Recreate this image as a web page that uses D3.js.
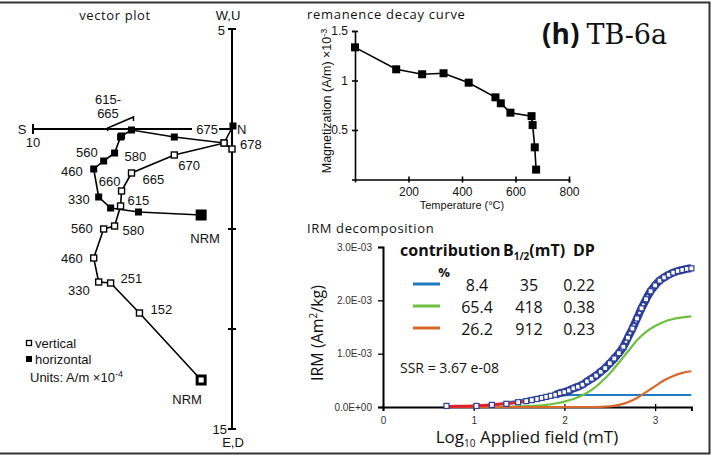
<!DOCTYPE html>
<html>
<head>
<meta charset="UTF-8">
<title>TB-6a</title>
<style>
  body { margin: 0; background: #fff; }
  svg { display: block; }
  text { font-family: "Liberation Sans", Arial, sans-serif; fill: #111; }
  .hum { font-family: "Open Sans", "Noto Sans", sans-serif; }
</style>
</head>
<body>
<svg></svg>
<script src="https://d3js.org/d3.v7.min.js"></script>
<script>
let width = 713, height = 456;
let svg = d3.select("svg").attr("width", width).attr("height", height);

// ---- vector plot data (A/m x 1e-4) ----
var steps = ["NRM", "152", "251", "330", "460", "560", "580", "615", "660", "665", "670", "675", "678"];
var horN = [-1.55, -4.7, -6.1, -6.7, -6.95, -6.45, -5.9, -5.6, -5.55, -5.05, -2.9, -0.4, 0.05];
var horE = [4.3, 4.15, 3.95, 3.4, 2.0, 1.6, 1.2, 0.4, 0.35, 0.05, 0.4, 0.7, -0.15];
var verN = [-1.55, -4.65, -6.1, -6.7, -6.95, -6.45, -5.9, -5.6, -5.55, -5.05, -2.9, -0.4, 0];
var verD = [12.55, 9.2, 7.7, 7.65, 6.45, 5.0, 4.85, 3.85, 3.1, 2.2, 1.3, 0.7, 1.0];

// ---- remanence decay curve ----
var decayT = [0, 154, 251, 331, 425, 525, 545, 581, 660, 664, 672, 677];
var decayM = [1.335, 1.113, 1.063, 1.073, 0.978, 0.83, 0.77, 0.675, 0.64, 0.55, 0.325, 0.10];

// ---- IRM decomposition (IRM in 1e-3 Am2/kg) ----
var irmX = [0.70, 1.03, 1.20, 1.36, 1.49, 1.58, 1.64, 1.70, 1.75, 1.80, 1.85, 1.90, 1.95, 2.00, 2.05, 2.10,
            2.15, 2.20, 2.25, 2.30, 2.35, 2.40, 2.45, 2.50, 2.55, 2.60, 2.65, 2.70, 2.75, 2.80, 2.85, 2.90,
            2.95, 3.00, 3.05, 3.10, 3.15, 3.20, 3.25, 3.30, 3.35, 3.40];
var irmY = [0.02, 0.02, 0.04, 0.06, 0.09, 0.11, 0.13, 0.15, 0.17, 0.19, 0.21, 0.23, 0.26, 0.28, 0.31, 0.35,
            0.38, 0.42, 0.48, 0.53, 0.59, 0.66, 0.73, 0.82, 0.91, 1.01, 1.13, 1.30, 1.47, 1.66, 1.85, 2.02,
            2.17, 2.28, 2.37, 2.43, 2.48, 2.52, 2.55, 2.57, 2.59, 2.60];
var fitX = [0.7, 0.8, 0.9, 1.0, 1.1, 1.2, 1.3, 1.4, 1.5, 1.6, 1.7, 1.8, 1.9, 2.0, 2.1, 2.2, 2.3, 2.4, 2.5,
            2.6, 2.7, 2.8, 2.9, 3.0, 3.1, 3.2, 3.3, 3.4];
var fitY = [0.01, 0.012, 0.015, 0.02, 0.03, 0.04, 0.055, 0.07, 0.09, 0.12, 0.15, 0.19, 0.23, 0.28, 0.35,
            0.42, 0.53, 0.66, 0.82, 1.01, 1.30, 1.66, 2.02, 2.28, 2.43, 2.52, 2.57, 2.60];
var compX = [0.7, 1.0, 1.2, 1.3, 1.4, 1.5, 1.6, 1.7, 1.8, 1.9, 2.0, 2.1, 2.2, 2.3, 2.4, 2.5, 2.6, 2.7,
             2.8, 2.9, 3.0, 3.1, 3.2, 3.3, 3.4];
var compBlue = [0, 0.004, 0.03, 0.06, 0.09, 0.12, 0.16, 0.19, 0.21, 0.218, 0.222, 0.225, 0.225, 0.225, 0.225,
                0.225, 0.225, 0.225, 0.225, 0.225, 0.225, 0.225, 0.225, 0.225, 0.225];
var compGreen = [0, 0.001, 0.002, 0.004, 0.007, 0.01, 0.016, 0.025, 0.04, 0.065, 0.10, 0.15, 0.22, 0.32,
                 0.46, 0.63, 0.83, 1.04, 1.25, 1.41, 1.52, 1.60, 1.65, 1.68, 1.70];
var compOrange = [0, 0, 0, 0, 0, 0, 0, 0, 0, 0, 0, 0, 0, 0, 0.001, 0.01, 0.04, 0.09, 0.17, 0.28, 0.39,
                  0.50, 0.58, 0.64, 0.67];
var compNames = ["blue", "green", "orange"];
var contribution = ["8.4", "65.4", "26.2"];
var bHalf = ["35", "418", "912"];
var dispersion = ["0.22", "0.38", "0.23"];
var ssrText = "SSR = 3.67 e-08";

// ---------------- frame ----------------
svg.append("path")
  .attr("d", "M0,2.5H709.5V453.5H0")
  .attr("fill", "none").attr("stroke", "#333").attr("stroke-width", 2);

// ---------------- vector plot ----------------
var xV = d3.scaleLinear().domain([-10, 0]).range([33, 232]);
var yV = d3.scaleLinear().domain([-5, 15]).range([29, 429]);

svg.append("text").attr("class", "hum").attr("x", 115).attr("y", 20)
  .attr("text-anchor", "middle").style("font-size", "13px").style("letter-spacing", "0.6px")
  .text("vector plot");

var vAx = svg.append("g").attr("stroke", "#000").attr("stroke-width", 2);
vAx.append("line").attr("x1", xV(-10)).attr("x2", xV(0)).attr("y1", yV(0)).attr("y2", yV(0));
vAx.append("line").attr("x1", xV(0)).attr("x2", xV(0)).attr("y1", yV(-5)).attr("y2", yV(15));
vAx.append("line").attr("x1", xV(-10)).attr("x2", xV(-10)).attr("y1", yV(0) - 5).attr("y2", yV(0) + 5);
[-5, 5, 10, 15].forEach(function(t) {
  vAx.append("line").attr("x1", xV(0) - 4).attr("x2", xV(0) + 4).attr("y1", yV(t)).attr("y2", yV(t));
});

function vtext(x, y, s, anchor) {
  return svg.append("text").attr("x", x).attr("y", y).attr("text-anchor", anchor || "start")
    .style("font-size", "13px").text(s);
}
vtext(22, yV(0) + 5, "S", "middle");
vtext(xV(-10), yV(0) + 18, "10", "middle");
vtext(xV(0) + 5, yV(0) + 5, "N");
vtext(xV(0) - 4, 20, "W,U", "middle");
vtext(xV(0) - 7, yV(-5) + 6, "5", "end");
vtext(xV(0) - 5, yV(15) + 5, "15", "end");
vtext(xV(0) + 1, yV(15) + 18, "E,D", "middle");

// 615-665 bracket
svg.append("path")
  .attr("d", "M" + xV(-6.25) + "," + (yV(0) + 2) + "L" + xV(-6.25) + "," + (yV(0) - 1) +
             "L" + xV(-4.95) + "," + (yV(0) - 12) + "L" + xV(-4.95) + "," + (yV(0) - 8))
  .attr("fill", "none").attr("stroke", "#000").attr("stroke-width", 1.5);
vtext(108, 104, "615-", "middle");
vtext(108, 118, "665", "middle");

var lineH = d3.line().x(function(d, i) { return xV(horN[i]); }).y(function(d, i) { return yV(horE[i]); });
var lineVt = d3.line().x(function(d, i) { return xV(verN[i]); }).y(function(d, i) { return yV(verD[i]); });
svg.append("path").datum(steps).attr("d", lineH).attr("fill", "none").attr("stroke", "#000").attr("stroke-width", 1.6);
svg.append("path").datum(steps).attr("d", lineVt).attr("fill", "none").attr("stroke", "#000").attr("stroke-width", 1.6);

svg.append("g").selectAll("rect").data(steps).enter().append("rect")
  .attr("x", function(d, i) { var s = i === 0 ? 11 : 7; return xV(horN[i]) - s / 2; })
  .attr("y", function(d, i) { var s = i === 0 ? 11 : 7; return yV(horE[i]) - s / 2; })
  .attr("width", function(d, i) { return i === 0 ? 11 : 7; })
  .attr("height", function(d, i) { return i === 0 ? 11 : 7; })
  .attr("fill", "#000");

svg.append("g").selectAll("rect").data(steps).enter().append("rect")
  .attr("x", function(d, i) { var s = i === 0 ? 8 : 6; return xV(verN[i]) - s / 2; })
  .attr("y", function(d, i) { var s = i === 0 ? 8 : 6; return yV(verD[i]) - s / 2; })
  .attr("width", function(d, i) { return i === 0 ? 8 : 6; })
  .attr("height", function(d, i) { return i === 0 ? 8 : 6; })
  .attr("fill", "#fff").attr("stroke", "#000")
  .attr("stroke-width", function(d, i) { return i === 0 ? 3 : 1.4; });

// step labels: which series / step, offset from the point
var vecLabels = [
  {s: "v", i: 0, dx: -14, dy: 24, a: "middle"},
  {s: "v", i: 1, dx: 11, dy: 1, a: "start"},
  {s: "v", i: 2, dx: 10, dy: 0, a: "start"},
  {s: "v", i: 3, dx: -9, dy: 13, a: "end"},
  {s: "v", i: 4, dx: -11, dy: 5, a: "end"},
  {s: "v", i: 5, dx: -11, dy: 4, a: "end"},
  {s: "v", i: 6, dx: 8, dy: 9, a: "start"},
  {s: "v", i: 7, dx: 7, dy: -1, a: "start"},
  {s: "v", i: 8, dx: -1, dy: -5, a: "end"},
  {s: "v", i: 9, dx: 11, dy: 11, a: "start"},
  {s: "v", i: 10, dx: 4, dy: 15, a: "start"},
  {s: "v", i: 12, dx: 8, dy: 0, a: "start"},
  {s: "h", i: 0, dx: 4, dy: 28, a: "middle"},
  {s: "h", i: 3, dx: -9, dy: 7, a: "end"},
  {s: "h", i: 4, dx: -11, dy: 7, a: "end"},
  {s: "h", i: 5, dx: -6, dy: -4, a: "end"},
  {s: "h", i: 6, dx: 10, dy: 8, a: "start"}
];
vecLabels.forEach(function(l) {
  var px = l.s === "v" ? xV(verN[l.i]) : xV(horN[l.i]);
  var py = l.s === "v" ? yV(verD[l.i]) : yV(horE[l.i]);
  vtext(px + l.dx, py + l.dy, steps[l.i], l.a);
});
// 675 label sits on the N-S axis with a white backing
svg.append("rect").attr("x", 192).attr("y", yV(0) - 8).attr("width", 27).attr("height", 15).attr("fill", "#fff");
vtext(218, yV(0) + 5, steps[11], "end");

// legend
svg.append("rect").attr("x", 26.5).attr("y", 340.5).attr("width", 5).attr("height", 5)
  .attr("fill", "#fff").attr("stroke", "#000").attr("stroke-width", 1.3);
svg.append("rect").attr("x", 26).attr("y", 356).attr("width", 6).attr("height", 6).attr("fill", "#000");
vtext(35, 348, "vertical");
vtext(35, 364, "horizontal");
var u = vtext(30, 382, "Units: A/m \u00d710");
u.append("tspan").attr("dy", -5).style("font-size", "9px").text("-4");

// ---------------- remanence decay curve ----------------
var xD = d3.scaleLinear().domain([0, 800]).range([355, 569]);
var yD = d3.scaleLinear().domain([0, 1.5]).range([179.5, 31]);

svg.append("text").attr("class", "hum").attr("x", 307).attr("y", 19)
  .style("font-size", "13px").style("letter-spacing", "0.7px").text("remanence decay curve");

var gx = svg.append("g").attr("transform", "translate(0," + yD(0) + ")")
  .call(d3.axisBottom(xD).tickValues([200, 400, 600, 800]).tickSizeOuter(0).tickSize(3).tickPadding(5));
gx.selectAll(".tick line").attr("y1", -3).attr("y2", 3);
var gy = svg.append("g").attr("transform", "translate(" + xD(0) + ",0)")
  .call(d3.axisLeft(yD).tickValues([0.5, 1, 1.5]).tickFormat(d3.format("")).tickSizeOuter(0).tickSize(3).tickPadding(4));
gy.selectAll(".tick line").attr("x1", 3).attr("x2", -3);
[gx, gy].forEach(function(g) {
  g.select(".domain").attr("stroke-width", 1.6);
  g.selectAll(".tick line").attr("stroke-width", 1.6);
  g.selectAll("text").style("font-size", "12px").style("font-family", "Liberation Sans, Arial, sans-serif");
});

svg.append("text").attr("x", 462).attr("y", 209).attr("text-anchor", "middle")
  .style("font-size", "11px").text("Temperature (\u00b0C)");
var ml = svg.append("text").attr("transform", "translate(331,101) rotate(-90)").attr("text-anchor", "middle")
  .style("font-size", "12.5px").text("Magnetization (A/m) \u00d710");
ml.append("tspan").attr("dy", -4).style("font-size", "9px").text("-3");

var lineD = d3.line().x(function(d, i) { return xD(decayT[i]); }).y(function(d, i) { return yD(decayM[i]); });
svg.append("path").datum(decayT).attr("d", lineD).attr("fill", "none").attr("stroke", "#000").attr("stroke-width", 1.6);
svg.append("g").selectAll("rect").data(decayT).enter().append("rect")
  .attr("x", function(d, i) { return xD(decayT[i]) - 4; })
  .attr("y", function(d, i) { return yD(decayM[i]) - 4; })
  .attr("width", 8).attr("height", 8).attr("fill", "#000");

// ---------------- title ----------------
var tt = svg.append("text").attr("x", 542).attr("y", 44).style("font-size", "28px");
tt.append("tspan").style("font-weight", "bold").style("font-family", "Open Sans, sans-serif").text("(h)");
tt.append("tspan").style("font-family", "DejaVu Serif, serif").style("font-size", "27px").attr("dx", 7).text("TB-6a");

// ---------------- IRM decomposition ----------------
var xI = d3.scaleLinear().domain([0, 3.4]).range([383, 691.4]);
var yI = d3.scaleLinear().domain([0, 3]).range([407, 247]);

svg.append("text").attr("class", "hum").attr("x", 307).attr("y", 233)
  .style("font-size", "13px").style("letter-spacing", "0.6px").text("IRM decomposition");

var ix = svg.append("g").attr("transform", "translate(0," + yI(0) + ")")
  .call(d3.axisBottom(xI).tickValues([0, 1, 2, 3]).tickFormat(d3.format("d")).tickSizeOuter(0).tickSize(4).tickPadding(6));
ix.selectAll(".tick line").attr("y1", -3).attr("y2", 4);
var iy = svg.append("g").attr("transform", "translate(" + xI(0) + ",0)")
  .call(d3.axisLeft(yI).tickValues([0, 1, 2, 3]).tickSizeOuter(0).tickSize(5).tickPadding(6)
    .tickFormat(function(d) { return d === 0 ? "0.0E+00" : d.toFixed(1) + "E-03"; }));
[ix, iy].forEach(function(g) {
  g.select(".domain").attr("stroke-width", 2);
  g.selectAll(".tick line").attr("stroke-width", 1.3);
  g.selectAll("text").style("font-size", "10px").style("fill", "#333")
    .style("font-family", "Liberation Sans, Arial, sans-serif");
});

var xl = svg.append("text").attr("class", "hum").attr("x", 527).attr("y", 443).attr("text-anchor", "middle")
  .style("font-size", "17px");
xl.append("tspan").text("Log");
xl.append("tspan").attr("dy", 4).style("font-size", "10px").text("10");
xl.append("tspan").attr("dy", -4).text(" Applied field (mT)");
var yl = svg.append("text").attr("class", "hum").attr("transform", "translate(323,333) rotate(-90)")
  .attr("text-anchor", "middle").style("font-size", "16px");
yl.append("tspan").text("IRM (Am");
yl.append("tspan").attr("dy", -6).style("font-size", "10px").text("2");
yl.append("tspan").attr("dy", 6).text("/kg)");

var compColor = {blue: "#1f7bc4", green: "#6cbf3f", orange: "#d8672a"};
var compY = {blue: compBlue, green: compGreen, orange: compOrange};

var curveI = function(xs, ys) {
  return d3.line().curve(d3.curveMonotoneX)
    .x(function(d, i) { return xI(xs[i]); }).y(function(d, i) { return yI(ys[i]); });
};
compNames.forEach(function(c) {
  svg.append("path").datum(compX).attr("d", curveI(compX, compY[c]))
    .attr("fill", "none").attr("stroke", compColor[c]).attr("stroke-width", 2.2);
});
svg.append("path").datum(fitX).attr("d", curveI(fitX, fitY))
  .attr("fill", "none").attr("stroke", "#e0202c").attr("stroke-width", 3);

// dense measurement band in the upper part
var upX = irmX.filter(function(d) { return d >= 1.9; });
var upY = irmY.filter(function(d, i) { return irmX[i] >= 1.9; });
svg.append("path").datum(upX).attr("d", curveI(upX, upY))
  .attr("fill", "none").attr("stroke", "#2c3c98").attr("stroke-width", 8);
svg.append("path").datum(upX).attr("d", curveI(upX, upY))
  .attr("fill", "none").attr("stroke", "#fff").attr("stroke-width", 2.4).attr("stroke-dasharray", "2.5,2");
svg.append("g").selectAll("rect").data(irmX).enter().append("rect")
  .attr("x", function(d, i) { return xI(irmX[i]) - 2.5; })
  .attr("y", function(d, i) { return yI(irmY[i]) - 2.5; })
  .attr("width", 5).attr("height", 5)
  .attr("fill", "#fff").attr("stroke", "#2c3c98").attr("stroke-width", 1.2);

// legend table
var tb = svg.append("g");
tb.append("text").attr("class", "hum").attr("x", 400).attr("y", 256).style("font-size", "16px")
  .style("font-weight", "bold").text("contribution");
tb.append("text").attr("class", "hum").attr("x", 444).attr("y", 277).attr("text-anchor", "middle")
  .style("font-size", "13px").style("font-weight", "bold").text("%");
var bh = tb.append("text").attr("class", "hum").attr("x", 503).attr("y", 256).style("font-size", "16px")
  .style("font-weight", "bold");
bh.append("tspan").text("B");
bh.append("tspan").attr("dy", 4).style("font-size", "10px").text("1/2");
bh.append("tspan").attr("dy", -4).text("(mT)");
tb.append("text").attr("class", "hum").attr("x", 573).attr("y", 256).style("font-size", "16px")
  .style("font-weight", "bold").text("DP");
compNames.forEach(function(c, i) {
  var y = 291 + i * 22;
  tb.append("line").attr("x1", 413).attr("x2", 440).attr("y1", y - 7).attr("y2", y - 7)
    .attr("stroke", compColor[c]).attr("stroke-width", 3);
  tb.append("text").attr("class", "hum").attr("x", 477).attr("y", y).attr("text-anchor", "middle")
    .style("font-size", "16px").text(contribution[i]);
  tb.append("text").attr("class", "hum").attr("x", 529).attr("y", y).attr("text-anchor", "middle")
    .style("font-size", "16px").text(bHalf[i]);
  tb.append("text").attr("class", "hum").attr("x", 579).attr("y", y).attr("text-anchor", "middle")
    .style("font-size", "16px").text(dispersion[i]);
});
tb.append("text").attr("class", "hum").attr("x", 400).attr("y", 373).style("font-size", "14px").text(ssrText);
</script>
</body>
</html>
